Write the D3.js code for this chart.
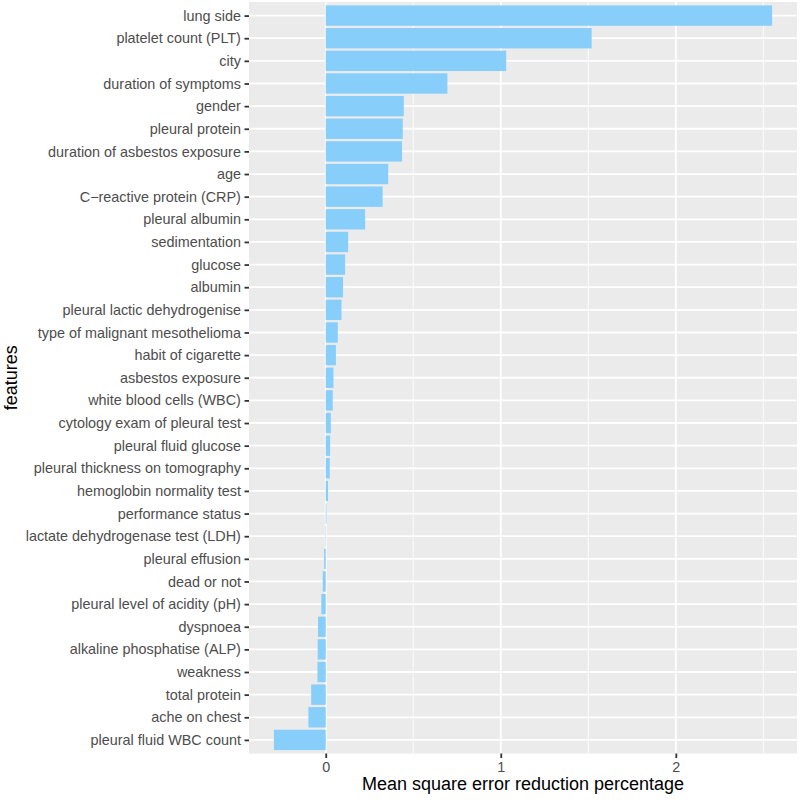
<!DOCTYPE html>
<html>
<head>
<meta charset="utf-8">
<script src="https://cdn.jsdelivr.net/npm/d3@7"></script>
<style>
  html, body { margin: 0; padding: 0; background: #ffffff; }
  svg { display: block; font-family: "Liberation Sans", Arial, Helvetica, sans-serif; }
</style>
</head>
<body>
<svg id="chart" width="800" height="800"></svg>
<script>
// Features, top to bottom
const features = [
  "lung side",
  "platelet count (PLT)",
  "city",
  "duration of symptoms",
  "gender",
  "pleural protein",
  "duration of asbestos exposure",
  "age",
  "C\u2212reactive protein (CRP)",
  "pleural albumin",
  "sedimentation",
  "glucose",
  "albumin",
  "pleural lactic dehydrogenise",
  "type of malignant mesothelioma",
  "habit of cigarette",
  "asbestos exposure",
  "white blood cells (WBC)",
  "cytology exam of pleural test",
  "pleural fluid glucose",
  "pleural thickness on tomography",
  "hemoglobin normality test",
  "performance status",
  "lactate dehydrogenase test (LDH)",
  "pleural effusion",
  "dead or not",
  "pleural level of acidity (pH)",
  "dyspnoea",
  "alkaline phosphatise (ALP)",
  "weakness",
  "total protein",
  "ache on chest",
  "pleural fluid WBC count"
];

// Mean square error reduction percentage
const values = [
  2.550, 1.519, 1.031, 0.695, 0.446, 0.440, 0.436, 0.357, 0.325, 0.225,
  0.128, 0.111, 0.099, 0.090, 0.069, 0.058, 0.044, 0.040, 0.029, 0.025,
  0.023, 0.013, 0.004, -0.002, -0.009, -0.017, -0.025, -0.044, -0.046, -0.047,
  -0.083, -0.099, -0.296
];

const xTicks = [0, 1, 2];
const xMinorTicks = [0.5, 1.5, 2.5];

const xTitle = "Mean square error reduction percentage";
const yTitle = "features";

const data = features.map((f, i) => ({ feature: f, value: values[i] }));

const svg = d3.select("#chart");
const panel = { left: 249, right: 797, top: 2, bottom: 753.5 };

const vmin = d3.min(values), vmax = d3.max(values);
const pad = (vmax - vmin) * 0.05;
const x = d3.scaleLinear()
  .domain([vmin - pad, vmax + pad])
  .range([panel.left, panel.right]);

// discrete scale with 0.6 expansion each side
const n = features.length;
const step = (panel.bottom - panel.top) / (n - 1 + 1.2);
const y = d3.scalePoint()
  .domain(features)
  .range([panel.top + 0.6 * step, panel.bottom - 0.6 * step]);
const barH = step * 0.9;

// panel background
svg.append("rect")
  .attr("x", panel.left).attr("y", panel.top)
  .attr("width", panel.right - panel.left)
  .attr("height", panel.bottom - panel.top)
  .attr("fill", "#EBEBEB");

const grid = svg.append("g");
// minor vertical grid
grid.selectAll("line.minor").data(xMinorTicks.filter(t => t >= x.domain()[0] && t <= x.domain()[1]))
  .enter().append("line")
  .attr("x1", d => x(d)).attr("x2", d => x(d))
  .attr("y1", panel.top).attr("y2", panel.bottom)
  .attr("stroke", "#ffffff").attr("stroke-width", 0.9);
// major vertical grid
grid.selectAll("line.majorx").data(xTicks)
  .enter().append("line")
  .attr("x1", d => x(d)).attr("x2", d => x(d))
  .attr("y1", panel.top).attr("y2", panel.bottom)
  .attr("stroke", "#ffffff").attr("stroke-width", 1.8);
// major horizontal grid
grid.selectAll("line.majory").data(features)
  .enter().append("line")
  .attr("x1", panel.left).attr("x2", panel.right)
  .attr("y1", d => y(d)).attr("y2", d => y(d))
  .attr("stroke", "#ffffff").attr("stroke-width", 1.8);

// bars
svg.append("g").selectAll("rect").data(data)
  .enter().append("rect")
  .attr("x", d => x(Math.min(0, d.value)))
  .attr("width", d => Math.abs(x(d.value) - x(0)))
  .attr("y", d => y(d.feature) - barH / 2)
  .attr("height", barH)
  .attr("fill", "#87CEFA");

// x axis
const xAxis = d3.axisBottom(x).tickValues(xTicks).tickFormat(d3.format("d"))
  .tickSize(4.5).tickPadding(3.6);
const gx = svg.append("g").attr("transform", `translate(0,${panel.bottom})`).call(xAxis);
gx.select(".domain").remove();
gx.selectAll(".tick line").attr("stroke", "#333333").attr("stroke-width", 1.8);
gx.selectAll(".tick text").attr("fill", "#4D4D4D")
  .style("font-size", "14.4px").style("font-family", '"Liberation Sans", Arial, sans-serif');

// y axis
const yAxis = d3.axisLeft(y).tickSize(4.5).tickPadding(3.6);
const gy = svg.append("g").attr("transform", `translate(${panel.left},0)`).call(yAxis);
gy.select(".domain").remove();
gy.selectAll(".tick line").attr("stroke", "#333333").attr("stroke-width", 1.8);
gy.selectAll(".tick text").attr("fill", "#4D4D4D")
  .style("font-size", "14.4px").style("font-family", '"Liberation Sans", Arial, sans-serif');

// axis titles
svg.append("text")
  .attr("x", (panel.left + panel.right) / 2)
  .attr("y", 790)
  .attr("text-anchor", "middle")
  .attr("fill", "#000000")
  .style("font-size", "18px")
  .text(xTitle);

svg.append("text")
  .attr("transform", `translate(16.5,${(panel.top + panel.bottom) / 2}) rotate(-90)`)
  .attr("text-anchor", "middle")
  .attr("fill", "#000000")
  .style("font-size", "18px")
  .text(yTitle);
</script>
</body>
</html>
